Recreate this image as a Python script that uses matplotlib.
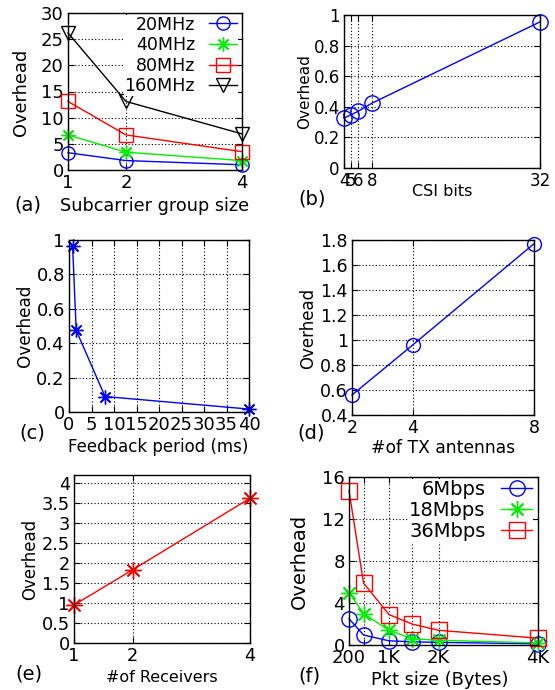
import matplotlib
matplotlib.use('Agg')
import matplotlib.pyplot as plt
from matplotlib.ticker import FuncFormatter

# (a) overhead vs subcarrier group size
group_size = [1, 2, 4]
bw_labels = ['20MHz', '40MHz', '80MHz', '160MHz']
oh_20mhz = [3.3, 1.8, 1.0]
oh_40mhz = [6.7, 3.4, 1.8]
oh_80mhz = [13.1, 6.7, 3.5]
oh_160mhz = [26.2, 13.1, 6.9]

# (b) overhead vs CSI bits
csi_bits = [4, 5, 6, 8, 32]
oh_csi = [0.326, 0.348, 0.37, 0.424, 0.955]

# (c) overhead vs feedback period
fb_period = [0.8, 1.6, 8, 40]
oh_period = [0.965, 0.475, 0.09, 0.017]

# (d) overhead vs TX antennas
tx_antennas = [2, 4, 8]
oh_tx = [0.56, 0.96, 1.77]

# (e) overhead vs receivers
receivers = [1, 2, 4]
oh_rx = [0.95, 1.83, 3.62]

# (f) overhead vs packet size
pkt_size = [200, 500, 1024, 1500, 2048, 4096]
pkt_labels = ['200', '', '1K', '', '2K', '4K']
rate_labels = ['6Mbps', '18Mbps', '36Mbps']
oh_6mbps = [2.5, 0.95, 0.4, 0.3, 0.25, 0.12]
oh_18mbps = [5.0, 3.0, 1.4, 0.6, 0.45, 0.2]
oh_36mbps = [14.7, 5.9, 2.9, 2.0, 1.4, 0.65]

BLUE, GREEN, RED = '#0000ff', '#00ee00', '#ff0000'
STAR = (8, 2, 0)

W, H = 555, 690
fig = plt.figure(figsize=(W / 100, H / 100), dpi=100)


def panel(l, t, r, b, fs):
    ax = fig.add_axes([l / W, 1 - b / H, (r - l) / W, (b - t) / H])
    ax.tick_params(direction='in', length=4, width=0.8, top=True, right=True,
                   labelsize=fs, pad=3)
    ax.grid(True, color='black', linestyle=(0, (1, 2)), linewidth=0.8)
    for s in ax.spines.values():
        s.set_linewidth(1)
    ax.yaxis.set_major_formatter(FuncFormatter(lambda v, p: f'{v:g}'))
    return ax


def labels(ax, xlab, xpos, xfs, ylab, ypos, yfs, tag, tpos):
    ax.set_xlabel(xlab, fontsize=xfs, va='center', ha='center')
    ax.xaxis.set_label_coords(xpos[0] / W, 1 - xpos[1] / H, transform=fig.transFigure)
    ax.set_ylabel(ylab, fontsize=yfs, va='center', ha='center')
    ax.yaxis.set_label_coords(ypos[0] / W, 1 - ypos[1] / H, transform=fig.transFigure)
    fig.text(tpos[0] / W, 1 - tpos[1] / H, tag, fontsize=14, ha='center', va='center')


def line(ax, x, y, color, marker, ms, label=None):
    ax.plot(x, y, color=color, lw=1, marker=marker, ms=ms, mfc='none', mec=color,
            mew=1, clip_on=False, label=label)


def key(ax, fs, spacing):
    ax.legend(loc='upper right', bbox_to_anchor=(0.98, 0.995), markerfirst=False,
              fontsize=fs, handlelength=1.6, handletextpad=0.8, labelspacing=spacing,
              borderpad=0.05, borderaxespad=0.05, frameon=True, edgecolor='none',
              facecolor='white', framealpha=1, fancybox=False)


# (a)
ax = panel(68, 13, 242, 170, 13)
line(ax, group_size, oh_20mhz, BLUE, 'o', 9.5, bw_labels[0])
line(ax, group_size, oh_40mhz, GREEN, STAR, 10, bw_labels[1])
line(ax, group_size, oh_80mhz, RED, 's', 10.5, bw_labels[2])
line(ax, group_size, oh_160mhz, 'black', 'v', 10, bw_labels[3])
ax.set_xlim(1, 4)
ax.set_ylim(0, 30)
ax.set_xticks(group_size)
ax.set_yticks(range(0, 31, 5))
key(ax, 12.5, 0.15)
labels(ax, 'Subcarrier group size', (155, 206), 12.7, 'Overhead', (21, 92), 12.8, '(a)', (28, 205))

# (b)
ax = panel(344, 15, 540, 168, 12)
line(ax, csi_bits, oh_csi, BLUE, 'o', 11)
ax.set_xlim(4, 32)
ax.set_ylim(0, 1)
ax.set_xticks(csi_bits)
ax.set_yticks([0, 0.2, 0.4, 0.6, 0.8, 1])
labels(ax, 'CSI bits', (442, 192), 11.5, 'Overhead', (305, 92), 11, '(b)', (312, 199))

# (c)
ax = panel(69, 240, 249, 412, 13)
line(ax, fb_period, oh_period, BLUE, STAR, 10)
ax.set_xlim(0, 40)
ax.set_ylim(0, 1)
ax.set_xticks(range(0, 41, 5))
ax.set_yticks([0, 0.2, 0.4, 0.6, 0.8, 1])
labels(ax, 'Feedback period (ms)', (158, 447), 12, 'Overhead', (25, 326), 12.2, '(c)', (32, 433))

# (d)
ax = panel(352, 240, 534, 415, 12.5)
line(ax, tx_antennas, oh_tx, BLUE, 'o', 10)
ax.set_xlim(2, 8)
ax.set_ylim(0.4, 1.8)
ax.set_xticks(tx_antennas)
ax.set_yticks([0.4, 0.6, 0.8, 1, 1.2, 1.4, 1.6, 1.8])
labels(ax, '#of TX antennas', (443, 448), 12.3, 'Overhead', (308, 328), 12, '(d)', (311, 433))

# (e)
ax = panel(74, 475, 250, 643, 12.8)
line(ax, receivers, oh_rx, RED, STAR, 12)
ax.set_xlim(1, 4)
ax.set_ylim(0, 4.2)
ax.set_xticks(receivers)
ax.set_yticks([0, 0.5, 1, 1.5, 2, 2.5, 3, 3.5, 4])
labels(ax, '#of Receivers', (162, 677), 11.5, 'Overhead', (30, 559), 12, '(e)', (29, 674))

# (f)
ax = panel(349, 477, 538, 645, 13)
line(ax, pkt_size, oh_6mbps, BLUE, 'o', 11, rate_labels[0])
line(ax, pkt_size, oh_18mbps, GREEN, STAR, 12, rate_labels[1])
line(ax, pkt_size, oh_36mbps, RED, 's', 11, rate_labels[2])
ax.set_xlim(200, 4096)
ax.set_ylim(0, 16)
ax.set_xticks(pkt_size)
ax.set_xticklabels(pkt_labels)
ax.set_yticks([0, 4, 8, 12, 16])
key(ax, 14, 0.1)
labels(ax, 'Pkt size (Bytes)', (440, 680), 12.8, 'Overhead', (299, 561), 14, '(f)', (309, 676))

fig.savefig('out.png', dpi=100)
